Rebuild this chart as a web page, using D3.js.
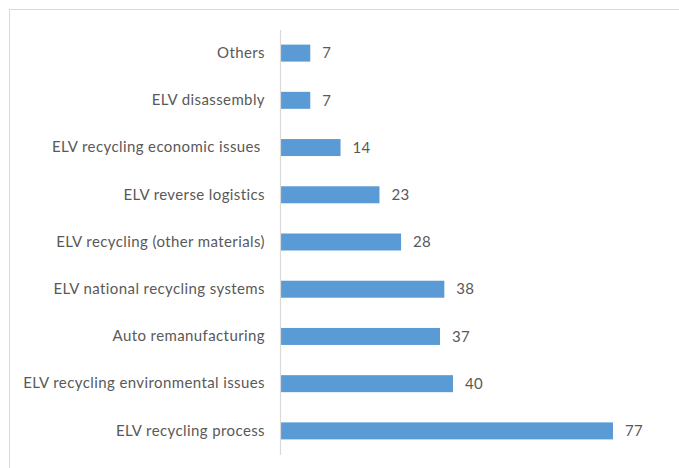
<!DOCTYPE html>
<html>
<head>
<meta charset="utf-8">
<script src="https://cdn.jsdelivr.net/npm/d3@7"></script>
<style>
  html, body { margin: 0; padding: 0; background: #fff; }
  svg { display: block; }
  text { font-family: Lato, "Open Sans", sans-serif; fill: #595959; }
</style>
</head>
<body>
<svg id="chart" width="679" height="468"></svg>
<script>
// Publication counts by research topic
const categories = [
  "Others",
  "ELV disassembly",
  "ELV recycling economic issues ",
  "ELV reverse logistics",
  "ELV recycling (other materials)",
  "ELV national recycling systems",
  "Auto remanufacturing",
  "ELV recycling environmental issues",
  "ELV recycling process"
];
const counts = [7, 7, 14, 23, 28, 38, 37, 40, 77];

const svg = d3.select("#chart");
const W = 679, H = 468;

// Outer chart frame (right and bottom edges fall outside the view)
svg.append("rect")
  .attr("x", 9.5).attr("y", 9.5)
  .attr("width", W + 20).attr("height", H + 20)
  .attr("fill", "#fff")
  .attr("stroke", "#d9d9d9")
  .attr("stroke-width", 1);

const x0 = 280;
const x = d3.scaleLinear().domain([0, 77]).range([x0, 613]);
const y = d3.scaleBand()
  .domain(categories)
  .range([29.5, 454.5])
  .paddingInner(0.64)
  .paddingOuter(0.32);

// Bars
svg.append("g").selectAll("rect")
  .data(categories)
  .join("rect")
  .attr("x", x(0))
  .attr("y", d => y(d))
  .attr("width", (d, i) => x(counts[i]) - x(0))
  .attr("height", y.bandwidth())
  .attr("fill", "#5b9bd5");

// Category axis
const axis = svg.append("g")
  .attr("transform", `translate(${x0},0)`)
  .call(d3.axisLeft(y).tickSize(0).tickPadding(15));
axis.select(".domain").attr("stroke", "#d9d9d9").attr("stroke-width", 1.2);
axis.selectAll("text")
  .attr("font-size", 15)
  .attr("letter-spacing", "0.4px")
  .attr("font-family", "Lato, 'Open Sans', sans-serif")
  .attr("fill", "#595959")
  .style("white-space", "pre");

// Value labels
svg.append("g").selectAll("text")
  .data(categories)
  .join("text")
  .attr("x", (d, i) => x(counts[i]) + 12)
  .attr("y", d => y(d) + y.bandwidth() / 2)
  .attr("dy", "0.35em")
  .attr("font-size", 15)
  .attr("letter-spacing", "0.3px")
  .text((d, i) => counts[i]);
</script>
</body>
</html>
